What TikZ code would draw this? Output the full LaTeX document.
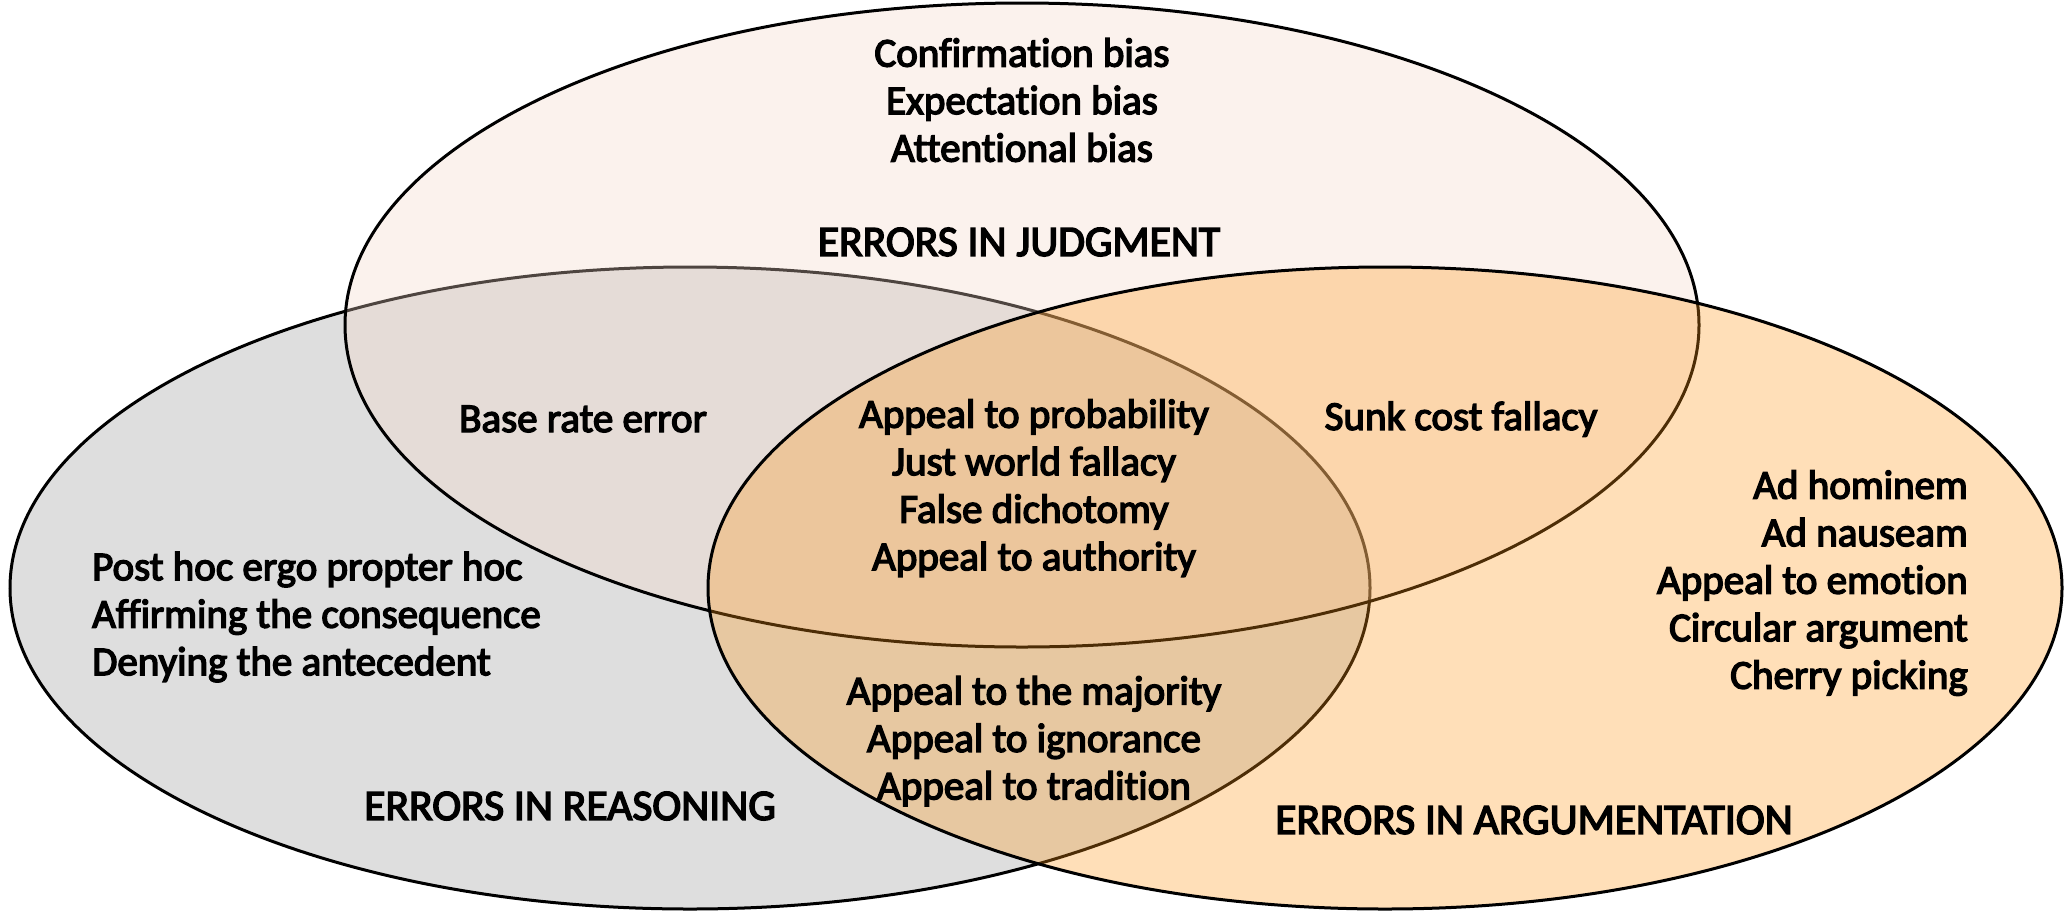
\documentclass[tikz,border=0pt]{standalone}
\usepackage{fontspec}
\newfontfamily\lblfont{Carlito}[Ligatures={NoCommon}, FakeBold=3.5]
\definecolor{grayfill}{RGB}{222,222,222}
\definecolor{topfill}{RGB}{245,217,202}
\definecolor{rightfill}{RGB}{255,150,22}
\tikzset{
  venn/.style={draw=black, line width=3pt},
  lbl/.style={inner sep=0pt, font=\lblfont\fontsize{41}{47.5}\selectfont, text=black},
  setlbl/.style={inner sep=0pt, font=\lblfont\fontsize{43.5}{47.5}\selectfont, text=black},
}
\begin{document}
\begin{tikzpicture}[x=1pt,y=-1pt]
\useasboundingbox (0,0) rectangle (2066,914);
\fill[white] (0,0) rectangle (2066,914);
% left ellipse (reasoning)
\path[venn, fill=grayfill] (690,588) ellipse [x radius=680, y radius=321];
% top ellipse (judgment)
\path[venn, fill=topfill, fill opacity=0.32] (1022,325) ellipse [x radius=677, y radius=322];
% right ellipse (argumentation)
\path[venn, fill=rightfill, fill opacity=0.3] (1385,588) ellipse [x radius=677, y radius=321];

\node[lbl, align=center] (judglist) at (1022,100) {Confirmation bias\\Expectation bias\\Attentional bias};
\node[setlbl] (judg) at (1019,242) {ERRORS IN JUDGMENT};
\node[lbl] (base) at (583,419) {Base rate error};
\node[lbl, align=center] (all) at (1034,488) {Appeal to probability\\Just world fallacy\\False dichotomy\\Appeal to authority};
\node[lbl] (sunk) at (1461,419) {Sunk cost fallacy};
\node[lbl, align=right, anchor=east] (arglist) at (1968,583) {Ad hominem\\Ad nauseam\\Appeal to emotion\\Circular argument\\Cherry picking};
\node[lbl, align=left, anchor=west] (reaslist) at (92,617) {Post hoc ergo propter hoc\\Affirming the consequence\\Denying the antecedent};
\node[lbl, align=center] (reasarg) at (1034,741) {Appeal to the majority\\Appeal to ignorance\\Appeal to tradition};
\node[setlbl] (reas) at (570,806) {ERRORS IN REASONING};
\node[setlbl] (arg) at (1534,820) {ERRORS IN ARGUMENTATION};
\end{tikzpicture}
\end{document}
